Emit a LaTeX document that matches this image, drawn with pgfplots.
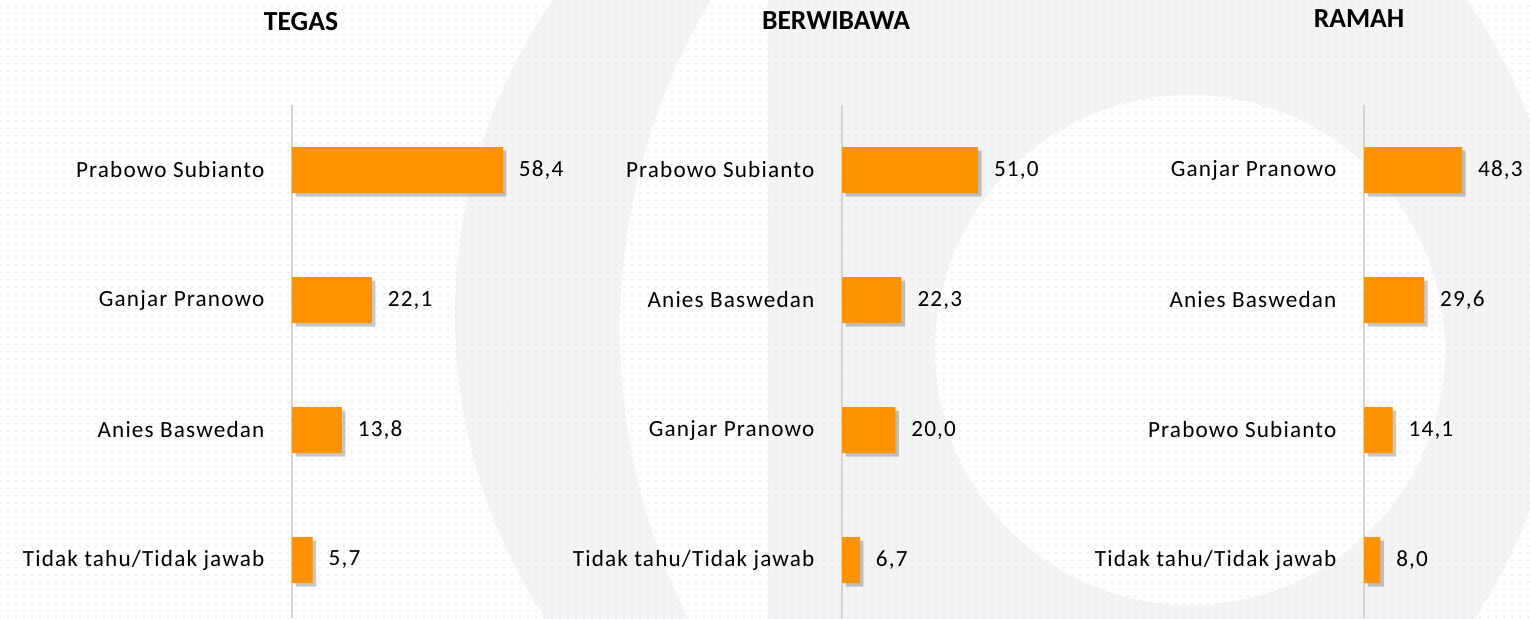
\documentclass[border=0pt]{standalone}
\usepackage{pgfplots}
\pgfplotsset{compat=1.18}
\usepackage{fontspec}
\setmainfont{Carlito}
\newfontfamily\lblfont[LetterSpace=5]{Carlito}
\usetikzlibrary{shadows,patterns.meta}
\definecolor{barorange}{RGB}{255,146,0}
\definecolor{axisgray}{RGB}{212,212,212}
\definecolor{wmgray}{RGB}{244,244,244}
\definecolor{dotcol}{RGB}{224,230,239}
\tikzdeclarepattern{
  name=bgdots,
  type=uncolored,
  bottom left={(-2pt,-1.8pt)},
  top right={(2pt,1.8pt)},
  tile size={(4pt,3.6pt)},
  code={\pgfpathcircle{\pgfpointorigin}{0.5pt}\pgfusepath{fill}}
}
\newcommand\lbl{\lblfont\fontsize{11.6}{13}\selectfont}
\pgfplotsset{
  panel/.style={
    anchor=north west,
    y=65pt, y dir=reverse,
    xmin=0, xmax=70, ymin=-0.5, ymax=3.446,
    xbar, bar width=23pt,
    axis line style={draw=none}, tick style={draw=none},
    xtick={0}, xticklabels={}, xmajorgrids,
    major grid style={draw=axisgray, line width=1pt},
    ytick={0,1,2,3},
    yticklabel style={font=\lbl, xshift=-6pt},
    nodes near coords,
    nodes near coords style={font=\lbl, xshift=4.5pt},
    clip=false,
    /pgf/number format/.cd, fixed, fixed zerofill, precision=1, use comma, assume math mode=true
  },
  barstyle/.style={fill=barorange, draw=none,
    drop shadow={shadow xshift=1.8pt, shadow yshift=-1.8pt, fill=black, opacity=0.22}}
}
\begin{document}
\begin{tikzpicture}
\clip (0pt,0pt) rectangle (765pt,-309pt);
\fill[white] (0pt,0pt) rectangle (765pt,-309pt);
% watermark
\fill[wmgray] (505pt,-157.5pt) circle (277.5pt);
\begin{scope}
\clip (0pt,0pt) rectangle (384pt,-309pt);
\fill[white] (632pt,-165pt) circle (322pt);
\end{scope}
\fill[white] (595pt,-175pt) circle (127.5pt);
\fill[pattern=bgdots, pattern color=dotcol] (0pt,0pt) rectangle (765pt,-309pt);
% titles
\node[font=\bfseries\fontsize{13.8}{15}\selectfont] at (150.5pt,-11pt) {TEGAS};
\node[font=\bfseries\fontsize{13.8}{15}\selectfont] at (418pt,-10.5pt) {BERWIBAWA};
\node[font=\bfseries\fontsize{13.8}{15}\selectfont] at (679.5pt,-9.5pt) {RAMAH};

\begin{axis}[panel, at={(146pt,-52.5pt)}, x=1.805pt,
  yticklabels={Prabowo Subianto, Ganjar Pranowo, Anies Baswedan, Tidak tahu/Tidak jawab}]
\addplot[barstyle] coordinates {(58.4,0) (22.1,1) (13.8,2) (5.7,3)};
\end{axis}

\begin{axis}[panel, at={(421pt,-52.5pt)}, x=1.333pt,
  yticklabels={Prabowo Subianto, Anies Baswedan, Ganjar Pranowo, Tidak tahu/Tidak jawab}]
\addplot[barstyle] coordinates {(51.0,0) (22.3,1) (20.0,2) (6.7,3)};
\end{axis}

\begin{axis}[panel, at={(682pt,-52.5pt)}, x=1.015pt,
  yticklabels={Ganjar Pranowo, Anies Baswedan, Prabowo Subianto, Tidak tahu/Tidak jawab}]
\addplot[barstyle] coordinates {(48.3,0) (29.6,1) (14.1,2) (8.0,3)};
\end{axis}
\end{tikzpicture}
\end{document}
